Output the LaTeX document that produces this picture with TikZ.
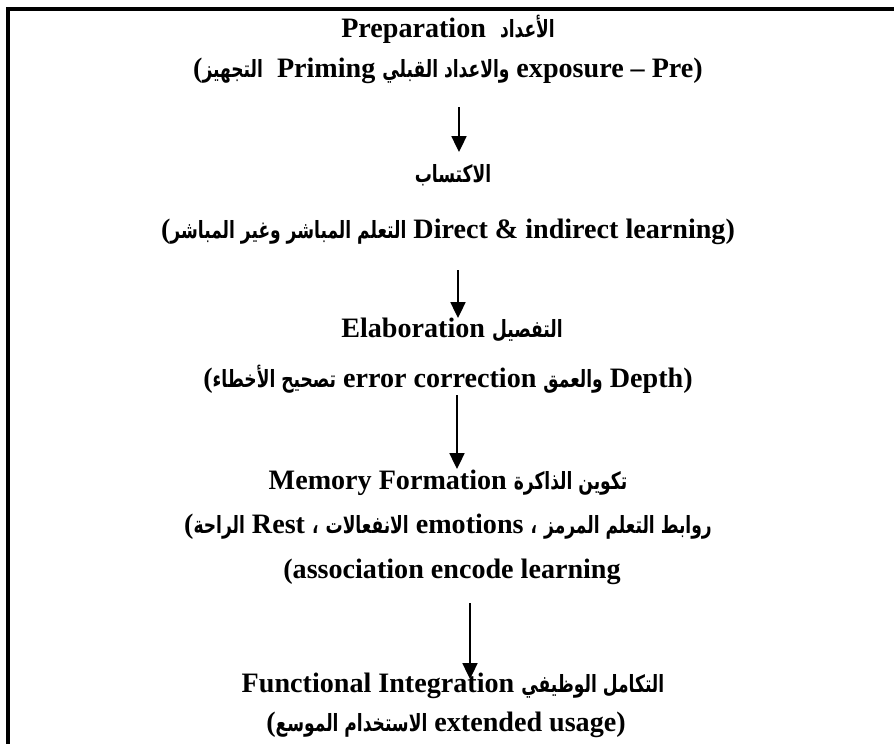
\documentclass[tikz,border=0pt]{standalone}
\usepackage{fontspec}
\setmainfont{Liberation Serif}
\newfontfamily\arabicfont[Script=Arabic,FakeStretch=0.72]{DejaVu Sans}
\TeXXeTstate=1
\usetikzlibrary{arrows.meta}
\newcommand{\ar}[1]{{\arabicfont\bfseries\fontsize{13.5}{15}\selectfont\beginR #1\endR}}
\begin{document}
\begin{tikzpicture}[x=0.02cm,y=-0.02cm,
  txt/.style={anchor=base, inner sep=0pt, font=\bfseries\fontsize{16}{19}\selectfont},
  flow/.style={line width=1.1pt, -{Triangle[width=8.5pt,length=9pt]}},
  frame/.style={line width=2.3pt}]
\useasboundingbox (0,0) rectangle (894,744);
\draw[frame] (8,744) -- (8,9) -- (894,9);
\node[txt] (l1) at (448,37) {Preparation\ \ \ar{الأعداد}};
\node[txt] (l2) at (448,77) {(\ar{التجهيز}\ \ Priming \ar{والاعداد القبلي} exposure – Pre)};
\coordinate (a1s) at (459,107);
\coordinate (a1e) at (459,152);
\node[txt] (l3) at (453,182) {\ar{الاكتساب}};
\node[txt] (l4) at (448,238) {(\ar{التعلم المباشر وغير المباشر} Direct \& indirect learning)};
\coordinate (a2s) at (458,270);
\coordinate (a2e) at (458,318);
\node[txt] (l5) at (452,337) {Elaboration \ar{التفصيل}};
\node[txt] (l6) at (448,387) {(\ar{تصحيح الأخطاء} error correction \ar{والعمق} Depth)};
\coordinate (a3s) at (457,395);
\coordinate (a3e) at (457,469);
\node[txt] (l7) at (448,489) {Memory Formation \ar{تكوين الذاكرة}};
\node[txt] (l8) at (448,533) {(\ar{الراحة} Rest \ar{،} \ar{الانفعالات} emotions \ar{،} \ar{روابط التعلم المرمز}};
\node[txt] (l9) at (452,578) {(association encode learning};
\coordinate (a4s) at (470,603);
\coordinate (a4e) at (470,679);
\node[txt] (l10) at (453,692) {Functional Integration \ar{التكامل الوظيفي}};
\node[txt] (l11) at (446,731) {(\ar{الاستخدام الموسع} extended usage)};
\draw[flow] (a1s) -- (a1e);
\draw[flow] (a2s) -- (a2e);
\draw[flow] (a3s) -- (a3e);
\draw[flow] (a4s) -- (a4e);
\end{tikzpicture}
\end{document}
